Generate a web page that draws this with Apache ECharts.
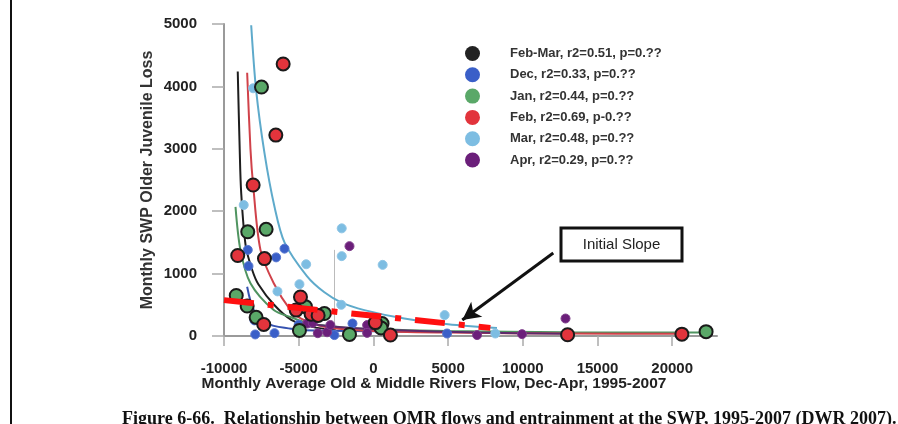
<!DOCTYPE html>
<html><head><meta charset="utf-8">
<script src="https://cdn.jsdelivr.net/npm/echarts@6/dist/echarts.min.js"></script>
<style>html,body{margin:0;padding:0;background:#fff}#c{width:898px;height:424px}</style>
</head><body><div id="c"></div>
<script>
// ---- data ----
const seriesNames = ['Feb-Mar, r2=0.51, p=0.??','Dec, r2=0.33, p=0.??','Jan, r2=0.44, p=0.??','Feb, r2=0.69, p-0.??','Mar, r2=0.48, p=0.??','Apr, r2=0.29, p=0.??'];
const xTicks = [-10000,-5000,0,5000,10000,15000,20000];

const decPoints = [[-8410,1380],[-8360,1120],[-6510,1260],[-5950,1400],[-7960,250],[-7910,25],[-6620,45],[-5000,180],[-1400,200],[-2610,15],[4930,40]];
const janPoints = [[-7490,3990],[-8410,1670],[-7180,1710],[-9180,650],[-8450,480],[-7850,300],[-4950,90],[-3280,360],[-4550,470],[-1600,25],[580,200],[515,130],[22270,70]];
const febPoints = [[-6040,4360],[-6530,3220],[-8050,2420],[-9080,1290],[-7290,1240],[-4880,625],[-7340,185],[-5170,415],[-4170,350],[-3700,330],[130,215],[1140,15],[13000,20],[20650,30]];
const marPoints = [[-8050,3970],[-8680,2100],[-6420,715],[-4500,1150],[-2120,1725],[-2120,1280],[620,1140],[-2150,500],[4770,335],[-4950,830],[8160,40]];
const aprPoints = [[-1600,1440],[-4430,200],[-4060,210],[-3720,45],[-3100,60],[-2880,175],[-420,175],[-420,50],[6940,15],[9950,30],[12860,280]];

const febMarFit = [[-9080,4240],[-8950,3000],[-8850,2300],[-8550,1450],[-8100,1050],[-7700,830],[-6650,500],[-5500,260],[-4170,150],[-2500,90]];
const decFit = [[-8450,790],[-8000,415],[-7110,200],[-5500,115],[-4880,95],[-3280,85],[0,75],[5000,65]];
const janFit = [[-9230,2070],[-8900,1380],[-8230,845],[-6670,415],[-5500,300],[-4430,210],[-3280,170],[-1050,120],[5000,80],[13000,60],[22700,55]];
const febFit = [[-8450,4220],[-8230,3000],[-8050,2420],[-7560,1380],[-6670,845],[-5550,415],[-4840,280],[-3280,150],[0,80],[5000,55],[13000,40],[20650,35]];
const marFit = [[-8180,4980],[-7850,3940],[-7290,2930],[-6620,2070],[-5950,1500],[-4450,960],[-3280,700],[-2160,540],[-600,415],[2070,280],[5000,190],[8270,130]];
const aprFit = [[-4840,210],[-2160,140],[1180,95],[7000,55],[13000,35]];

const initialSlope = [[-10000,575],[7830,130]];
const annotationArrow = [[12040,1330],[5950,256]];
const scribble = [[-2650,1380],[-2650,0]];

// ---- styles ----
const colors = ['#222222','#3a5fc8','#5aa868','#e2343c','#7dbde2','#6b1f7a'];
const lineColors = ['#1e1e1e','#3552b0','#4f9460','#d0424a','#5eaacb','#5e2a6c'];

const chart = echarts.init(document.getElementById('c'), null, {renderer:'canvas'});

function fitLine(name, data, color){
  return {name, type:'line', data, smooth:0.3, symbol:'none', z:2,
    lineStyle:{color, width:2}, itemStyle:{color}};
}
function pts(name, data, color, size, outlined){
  return {name, type:'scatter', data, symbolSize:size, z:3,
    itemStyle: outlined ? {color, borderColor:'#1a1a1a', borderWidth:2, opacity:1} : {color, borderColor: echarts.color.lift(color, 0.15), borderWidth:1, opacity:1}};
}
const plain = v => String(v);

const option = {
  animation:false,
  backgroundColor:'#ffffff',
  grid:{left:224, right:181, top:24, bottom:88},
  xAxis:{type:'value', min:-10000, max:23000, interval:5000,
    axisLine:{show:true, onZero:false, lineStyle:{color:'#9a9a9a', width:2}},
    axisTick:{show:true, length:10, customValues:xTicks, lineStyle:{color:'#aaaaaa', width:1.5}},
    axisLabel:{customValues:xTicks, formatter:plain, margin:25, color:'#222', fontFamily:'Liberation Sans', fontWeight:'bold', fontSize:15},
    splitLine:{show:false}},
  yAxis:{type:'value', min:0, max:5000, interval:1000,
    axisLine:{show:true, onZero:false, lineStyle:{color:'#9a9a9a', width:2}},
    axisTick:{show:true, length:12, lineStyle:{color:'#aaaaaa', width:1.5}},
    axisLabel:{formatter:plain, margin:27, color:'#222', fontFamily:'Liberation Sans', fontWeight:'bold', fontSize:15},
    splitLine:{show:false}},
  legend:{orient:'vertical', left:460, top:41, itemWidth:15, itemHeight:15, itemGap:6.3,
    textStyle:{fontFamily:'Liberation Sans', fontWeight:'bold', fontSize:13, color:'#333', padding:[0,0,0,25]},
    data: seriesNames.map((n,i)=>({name:n, icon:'circle', itemStyle:{color:colors[i], borderWidth:0}}))},
  series:[
    fitLine(seriesNames[0], febMarFit, lineColors[0]),
    fitLine(seriesNames[1], decFit, lineColors[1]),
    fitLine(seriesNames[2], janFit, lineColors[2]),
    fitLine(seriesNames[3], febFit, lineColors[3]),
    fitLine(seriesNames[4], marFit, lineColors[4]),
    fitLine(seriesNames[5], aprFit, lineColors[5]),
    pts(seriesNames[1], decPoints, colors[1], 9, false),
    pts(seriesNames[4], marPoints, colors[4], 9, false),
    pts(seriesNames[5], aprPoints, colors[5], 9, false),
    pts(seriesNames[2], janPoints, colors[2], 13, true),
    pts(seriesNames[3], febPoints, colors[3], 13, true),
    {name:'Initial Slope', type:'line', data:initialSlope, symbol:'none', z:5,
      lineStyle:{color:'#ff1010', width:6, type:[30,14,6,14], cap:'butt'},
      markLine:{silent:true, symbol:['none','none'], label:{show:false}, z:1,
        lineStyle:{color:'#bbbbbb', width:1, type:'solid'},
        data:[[{coord:scribble[0]},{coord:scribble[1]}]]}},
    {name:'arrow', type:'line', data:[], z:6,
      markLine:{silent:true, symbol:['none','arrow'], symbolSize:[14,18], label:{show:false},
        lineStyle:{color:'#111', width:3, type:'solid'},
        data:[[{coord:annotationArrow[0]},{coord:annotationArrow[1]}]]}}
  ],
  graphic:[
    {type:'rect', left:10, top:0, shape:{width:2, height:424}, style:{fill:'#111'}},
    {type:'text', x:148, y:180, rotation:Math.PI/2,
      style:{text:'Monthly SWP Older Juvenile Loss', font:'bold 16px "Liberation Sans"', fill:'#333', align:'center', verticalAlign:'middle'}},
    {type:'text', x:434, y:384,
      style:{text:'Monthly Average Old & Middle Rivers Flow, Dec-Apr, 1995-2007', font:'bold 15.5px "Liberation Sans"', fill:'#222', align:'center', verticalAlign:'middle'}},
    {type:'rect', shape:{x:561, y:228, width:121, height:33}, style:{fill:'#fff', stroke:'#111', lineWidth:3}, z:10},
    {type:'text', x:621.5, y:244.5, z:11,
      style:{text:'Initial Slope', font:'15px "Liberation Sans"', fill:'#222', align:'center', verticalAlign:'middle'}},
    {type:'text', x:122, y:410,
      style:{text:'Figure 6-66.  Relationship between OMR flows and entrainment at the SWP, 1995-2007 (DWR 2007).', font:'bold 18px "Liberation Serif"', fill:'#111', align:'left', verticalAlign:'top'}}
  ]
};
chart.setOption(option);
</script></body></html>
